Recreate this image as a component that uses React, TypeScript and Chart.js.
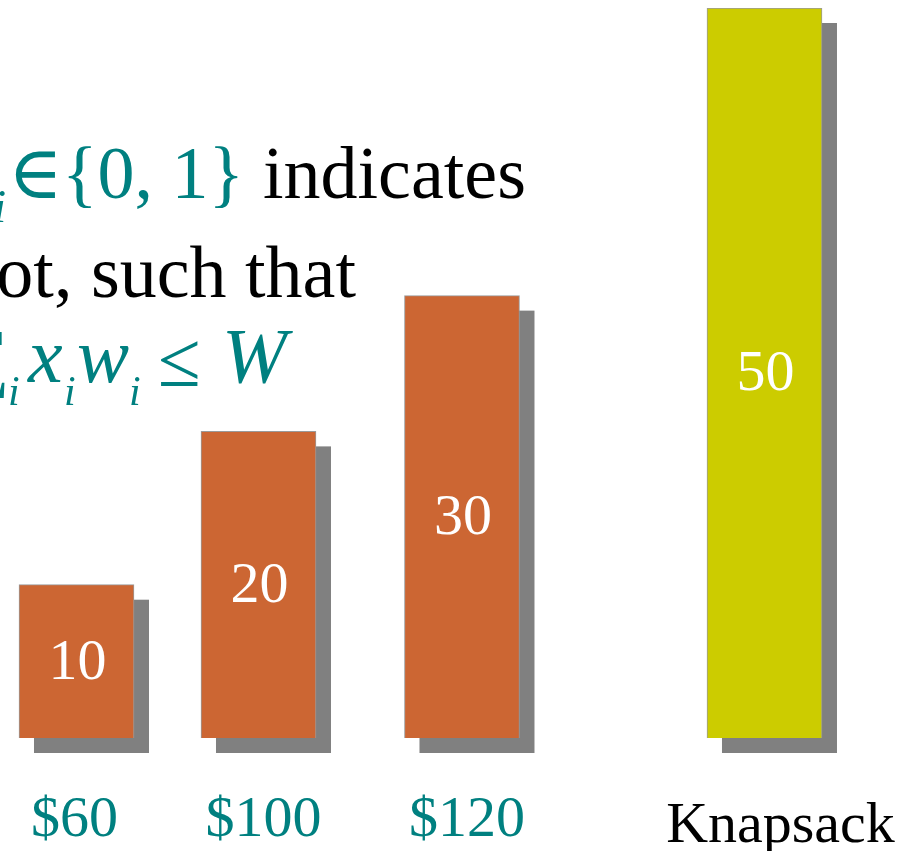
import React, { useEffect, useRef } from "react";
import { Chart, registerables } from "chart.js";

Chart.register(...registerables);

// ---- data ----
const itemLabels = ["$60", "$100", "$120", "Knapsack"];
const weights = [10, 20, 30, 50];
// bar heights (weight units)
const barHeights = [10.5, 21, 30.3, 50];
// horizontal placement of each bar on a 0–100 slide-width scale
const slotPositions = [8.36, 28.25, 50.49, 83.55];

// ---- style ----
const SERIF = "'Times New Roman', 'Liberation Serif', 'DejaVu Serif', serif";
const TEAL = "#008080";
const barColors = ["#CC6633", "#CC6633", "#CC6633", "#CCCC00"];
const labelColors = [TEAL, TEAL, TEAL, "#000000"];
const labelDx = [-2, 5, 5, 16];
const labelDy = [98, 98, 98, 104];
const SHADOW = 15;

const shadowPlugin = {
  id: "shadowPlugin",
  beforeDatasetsDraw(chart: any) {
    const ctx = chart.ctx;
    const meta = chart.getDatasetMeta(0);
    ctx.save();
    ctx.fillStyle = "#808080";
    meta.data.forEach((el: any) => {
      const { x, y, base, width } = el.getProps(["x", "y", "base", "width"], true);
      ctx.fillRect(x - width / 2 + SHADOW, y + SHADOW, width, base - y);
    });
    ctx.restore();
  },
  afterDatasetsDraw(chart: any) {
    const ctx = chart.ctx;
    const meta = chart.getDatasetMeta(0);
    ctx.save();
    meta.data.forEach((el: any, i: number) => {
      const { x, y, base } = el.getProps(["x", "y", "base"], true);
      ctx.fillStyle = "#ffffff";
      ctx.font = `58px ${SERIF}`;
      ctx.textAlign = "center";
      ctx.textBaseline = "middle";
      ctx.fillText(String(weights[i]), x + 1, (y + base) / 2 + 2);
      // category labels under the bars
      ctx.fillStyle = labelColors[i];
      ctx.font = `58px ${SERIF}`;
      ctx.textBaseline = "alphabetic";
      ctx.fillText(itemLabels[i], x + labelDx[i], base + labelDy[i]);
    });
    ctx.restore();
  },
  afterDraw(chart: any) {
    const ctx = chart.ctx;
    ctx.save();
    ctx.textBaseline = "alphabetic";
    // line 1
    ctx.fillStyle = TEAL;
    ctx.font = `italic 46px ${SERIF}`;
    ctx.textAlign = "right";
    ctx.fillText("i", 6, 222);
    ctx.textAlign = "left";
    ctx.font = `74px ${SERIF}`;
    ctx.fillText("\u2208", 8, 198);
    ctx.fillText("{0, 1}", 62, 198);
    ctx.fillStyle = "#000000";
    ctx.fillText("indicates", 263, 198);
    // line 2
    ctx.textAlign = "right";
    ctx.fillText("not, such that", 356, 297);
    // line 3 (math)
    ctx.fillStyle = TEAL;
    ctx.font = `76px ${SERIF}`;
    ctx.fillText("\u2211", 10, 382);
    ctx.textAlign = "left";
    ctx.font = `italic 42px ${SERIF}`;
    ctx.fillText("i", 8, 405);
    ctx.font = `italic 78px ${SERIF}`;
    ctx.fillText("x", 28, 382);
    ctx.font = `italic 42px ${SERIF}`;
    ctx.fillText("i", 64, 405);
    ctx.font = `italic 78px ${SERIF}`;
    ctx.fillText("w", 77, 382);
    ctx.font = `italic 42px ${SERIF}`;
    ctx.fillText("i", 129, 405);
    ctx.font = `78px ${SERIF}`;
    ctx.fillText("\u2264", 158, 386);
    ctx.font = `italic 78px ${SERIF}`;
    ctx.fillText("W", 222, 382);
    ctx.restore();
  },
};

export default function App() {
  const canvasRef = useRef<HTMLCanvasElement | null>(null);

  useEffect(() => {
    if (!canvasRef.current) return;
    const chart = new Chart(canvasRef.current, {
      type: "bar",
      data: {
        datasets: [
          {
            data: slotPositions.map((p, i) => ({ x: p, y: barHeights[i] })) as any,
            backgroundColor: barColors,
            borderColor: "#9a9a9a",
            borderWidth: 1,
            barThickness: 115,
          },
        ],
      },
      options: {
        animation: false,
        responsive: true,
        maintainAspectRatio: false,
        devicePixelRatio: 1,
        layout: { padding: { top: 8, bottom: 113, left: 0, right: 0 } },
        plugins: { legend: { display: false }, tooltip: { enabled: false } },
        scales: {
          x: { type: "linear", min: 0, max: 100, offset: false, display: false },
          y: { min: 0, max: 50, display: false },
        },
      },
      plugins: [shadowPlugin],
    });
    return () => chart.destroy();
  }, []);

  return (
    <div style={{ position: "fixed", left: 0, top: 0, width: 915, height: 851, background: "#fff" }}>
      <canvas ref={canvasRef} />
    </div>
  );
}
